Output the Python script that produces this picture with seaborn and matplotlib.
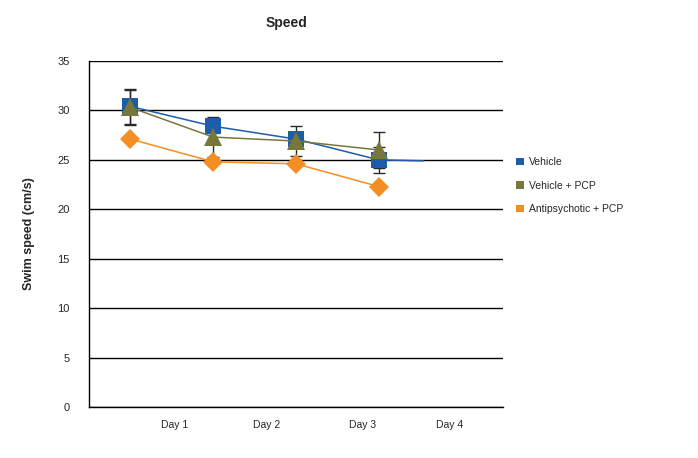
import pandas as pd
import seaborn as sns
import matplotlib.pyplot as plt
import numpy as np
from matplotlib.patches import Patch

days = ['Day 1', 'Day 2', 'Day 3', 'Day 4']
groups = ['Vehicle', 'Vehicle + PCP', 'Antipsychotic + PCP']

vehicle = [30.4, 28.4, 27.1, 25.0]
vehicle_err = [1.8, 0.7, 0.5, 1.3]
vehicle_pcp = [30.3, 27.3, 26.9, 26.0]
vehicle_pcp_err = [1.8, 2.0, 1.5, 1.8]
antipsy_pcp = [27.1, 24.8, 24.6, 22.3]

colors = {'Vehicle': '#1c5caa', 'Vehicle + PCP': '#77773b', 'Antipsychotic + PCP': '#f28e24'}
markers = {'Vehicle': 's', 'Vehicle + PCP': '^', 'Antipsychotic + PCP': 'D'}
msize = {'Vehicle': 11, 'Vehicle + PCP': 13, 'Antipsychotic + PCP': 10}
order_z = {'Antipsychotic + PCP': 3, 'Vehicle': 4, 'Vehicle + PCP': 5}

# points sit in the middle of each day slot
xpos = np.arange(len(days)) + 0.5

df = pd.DataFrame({
    'x': np.tile(xpos, 3),
    'speed': vehicle + vehicle_pcp + antipsy_pcp,
    'group': np.repeat(groups, len(days)),
})

sns.set_style('white')
plt.rcParams['font.family'] = ['Liberation Sans', 'DejaVu Sans']

fig = plt.figure(figsize=(6.98, 4.58), dpi=100)
ax = fig.add_axes([0.1275, 0.111, 0.593, 0.756])

# error bars first so markers cover them
ax.errorbar(xpos, vehicle, yerr=vehicle_err, fmt='none', ecolor='#2a2a2a',
            elinewidth=1.0, capsize=4, capthick=1.0, zorder=2)
ax.errorbar(xpos, vehicle_pcp, yerr=vehicle_pcp_err, fmt='none', ecolor='#2a2a2a',
            elinewidth=1.0, capsize=4, capthick=1.0, zorder=2)

for g in ['Antipsychotic + PCP', 'Vehicle', 'Vehicle + PCP']:
    sub = df[df['group'] == g]
    sns.lineplot(data=sub, x='x', y='speed', ax=ax, color=colors[g],
                 marker=markers[g], markersize=msize[g], markeredgewidth=0,
                 linewidth=1.1, zorder=order_z[g], legend=False)

# stray trend segment after the last Vehicle point
ax.plot([xpos[-1], 4.04], [vehicle[-1], vehicle[-1] - 0.1], color=colors['Vehicle'],
        linewidth=1.1, zorder=3)

ax.set_xlim(0, 5)
ax.set_ylim(0, 35)
ax.set_yticks(np.arange(0, 36, 5))
ax.yaxis.grid(True, color='black', linewidth=1.0)
ax.set_axisbelow(True)

ax.set_xticks([1.04, 2.15, 3.31, 4.36])
ax.set_xticklabels(days, fontsize=7.5)
ax.tick_params(axis='x', length=7, width=1, color='#333333', pad=2, direction='out')
ax.tick_params(axis='y', length=0, labelsize=8, pad=14)
ax.xaxis.get_major_ticks()[3].tick1line.set_visible(False)

for s in ['top', 'right']:
    ax.spines[s].set_visible(False)
for s in ['left', 'bottom']:
    ax.spines[s].set_color('black')
    ax.spines[s].set_linewidth(1.0)

ax.set_xlabel('')
ax.set_ylabel('Swim speed (cm/s)', fontsize=9, fontweight='bold', labelpad=16)
fig.text(0.411, 0.95, 'Speed', fontsize=10, fontweight='bold', ha='center', va='center')

handles = [Patch(facecolor=colors[g], edgecolor='none', label=g) for g in groups]
ax.legend(handles=handles, loc='center left', bbox_to_anchor=(1.01, 0.64),
          frameon=False, fontsize=7.5, handlelength=0.7, handleheight=0.7,
          handletextpad=0.5, labelspacing=1.3)

fig.savefig('out.png', dpi=100)
